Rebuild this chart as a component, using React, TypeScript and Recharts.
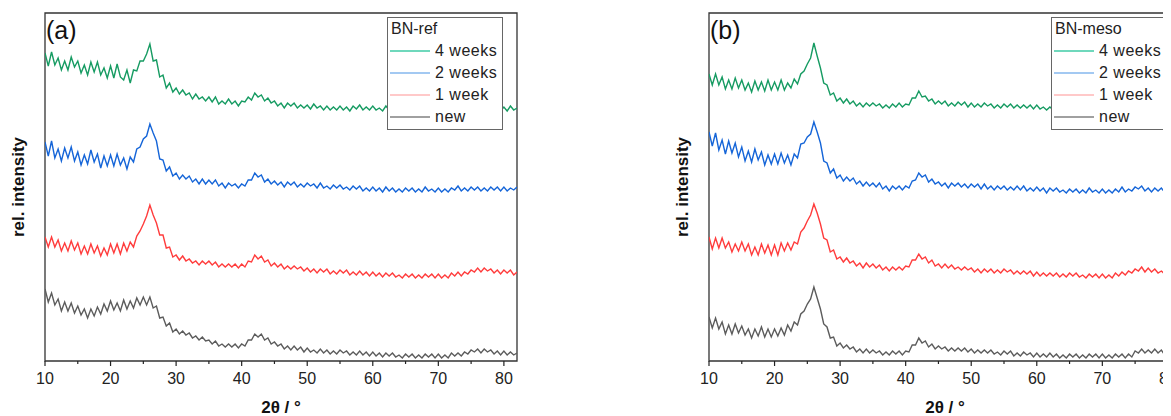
import { LineChart, Line, XAxis, YAxis, ReferenceArea, Legend } from "recharts"

// 2θ grid (°)
const TWO_THETA = [
  10, 10.5, 11, 11.5, 12, 12.5, 13, 13.5, 14, 14.5,
  15, 15.5, 16, 16.5, 17, 17.5, 18, 18.5, 19, 19.5,
  20, 20.5, 21, 21.5, 22, 22.5, 23, 23.5, 24, 24.5,
  25, 25.5, 26, 26.5, 27, 27.5, 28, 28.5, 29, 29.5,
  30, 30.5, 31, 31.5, 32, 32.5, 33, 33.5, 34, 34.5,
  35, 35.5, 36, 36.5, 37, 37.5, 38, 38.5, 39, 39.5,
  40, 40.5, 41, 41.5, 42, 42.5, 43, 43.5, 44, 44.5,
  45, 45.5, 46, 46.5, 47, 47.5, 48, 48.5, 49, 49.5,
  50, 50.5, 51, 51.5, 52, 52.5, 53, 53.5, 54, 54.5,
  55, 55.5, 56, 56.5, 57, 57.5, 58, 58.5, 59, 59.5,
  60, 60.5, 61, 61.5, 62, 62.5, 63, 63.5, 64, 64.5,
  65, 65.5, 66, 66.5, 67, 67.5, 68, 68.5, 69, 69.5,
  70, 70.5, 71, 71.5, 72, 72.5, 73, 73.5, 74, 74.5,
  75, 75.5, 76, 76.5, 77, 77.5, 78, 78.5, 79, 79.5,
  80, 80.5, 81, 81.5, 82,
]

// BN-ref, stacked rel. intensity (offset)
const REF_4W = [
  308, 295, 309, 296, 303, 291, 300, 291, 304, 294,
  300, 288, 296, 286, 299, 289, 299, 286, 293, 283,
  295, 283, 297, 284, 281, 291, 278, 291, 290, 300,
  300, 307, 317, 300, 301, 284, 286, 273, 278, 269,
  273, 267, 271, 266, 268, 262, 267, 262, 264, 260,
  264, 259, 264, 257, 260, 257, 262, 257, 260, 255,
  260, 259, 264, 261, 268, 264, 266, 260, 263, 258,
  260, 255, 258, 253, 258, 255, 258, 253, 256, 253,
  256, 252, 257, 253, 255, 251, 255, 251, 254, 251,
  255, 251, 254, 250, 255, 252, 256, 251, 254, 251,
  255, 251, 253, 250, 255, 251, 254, 248, 252, 250,
  253, 249, 251, 247, 252, 249, 253, 247, 250, 247,
  251, 247, 250, 247, 252, 249, 252, 247, 251, 248,
  252, 249, 252, 250, 255, 252, 255, 250, 254, 250,
  254, 250, 255, 251, 253,
]
const REF_2W = [
  219, 205, 220, 203, 212, 200, 213, 203, 214, 200,
  209, 196, 206, 197, 211, 199, 207, 193, 205, 195,
  206, 195, 207, 196, 203, 192, 204, 199, 212, 214,
  222, 225, 237, 228, 220, 202, 201, 190, 194, 185,
  188, 182, 186, 182, 185, 179, 182, 177, 182, 177,
  181, 177, 181, 175, 178, 173, 178, 175, 177, 173,
  177, 175, 181, 181, 188, 184, 186, 179, 182, 177,
  180, 176, 179, 174, 179, 176, 179, 174, 177, 174,
  178, 175, 177, 173, 178, 173, 175, 172, 176, 173,
  176, 172, 174, 171, 175, 172, 175, 170, 173, 170,
  174, 170, 173, 169, 174, 170, 173, 169, 172, 169,
  173, 170, 173, 169, 172, 169, 174, 170, 172, 169,
  173, 169, 172, 169, 173, 171, 175, 170, 173, 170,
  174, 171, 174, 170, 173, 170, 174, 171, 174, 170,
  174, 170, 173, 171, 174,
]
const REF_1W = [
  124, 114, 124, 114, 121, 110, 118, 110, 120, 111,
  118, 107, 115, 107, 117, 108, 115, 105, 113, 106,
  117, 108, 117, 107, 118, 110, 119, 114, 125, 130,
  137, 145, 156, 146, 138, 126, 126, 113, 114, 104,
  106, 101, 105, 100, 102, 98, 100, 96, 100, 97,
  100, 96, 99, 94, 97, 94, 97, 94, 97, 93,
  97, 94, 100, 99, 106, 102, 105, 99, 101, 95,
  98, 94, 97, 92, 95, 92, 95, 92, 94, 90,
  93, 89, 92, 88, 92, 89, 92, 87, 90, 87,
  91, 88, 91, 86, 89, 86, 90, 86, 89, 85,
  89, 85, 88, 84, 88, 85, 88, 84, 86, 83,
  87, 84, 87, 83, 86, 83, 87, 84, 87, 83,
  87, 83, 86, 83, 88, 85, 89, 85, 89, 87,
  91, 89, 93, 89, 93, 90, 92, 88, 91, 87,
  91, 88, 91, 86, 89,
]
const REF_NEW = [
  72, 59, 68, 56, 62, 50, 59, 50, 58, 48,
  55, 46, 52, 43, 52, 45, 54, 47, 57, 50,
  60, 51, 58, 50, 61, 52, 60, 53, 63, 56,
  64, 56, 64, 53, 55, 43, 44, 35, 38, 29,
  32, 27, 30, 26, 28, 23, 25, 21, 24, 20,
  21, 17, 20, 15, 17, 14, 17, 14, 17, 13,
  17, 15, 21, 21, 27, 24, 27, 21, 23, 17,
  19, 15, 17, 12, 15, 11, 15, 11, 14, 9,
  13, 9, 11, 8, 12, 8, 11, 7, 10, 7,
  11, 8, 10, 6, 9, 6, 10, 6, 9, 5,
  9, 5, 8, 4, 8, 5, 8, 4, 6, 3,
  7, 4, 7, 3, 6, 3, 7, 4, 7, 3,
  7, 3, 6, 3, 8, 5, 8, 5, 9, 7,
  11, 9, 12, 8, 12, 9, 11, 7, 10, 6,
  10, 6, 9, 6, 8,
]

// BN-meso
const MESO_4W = [
  287, 276, 287, 276, 284, 272, 281, 272, 283, 273,
  281, 271, 278, 269, 280, 271, 279, 270, 281, 271,
  279, 271, 281, 271, 278, 273, 282, 277, 287, 290,
  297, 303, 318, 305, 293, 278, 276, 266, 268, 260,
  263, 258, 262, 257, 260, 255, 258, 254, 258, 255,
  258, 255, 257, 253, 256, 253, 257, 254, 258, 254,
  257, 256, 263, 263, 270, 264, 265, 260, 262, 257,
  260, 257, 260, 255, 258, 255, 259, 256, 259, 254,
  258, 254, 257, 254, 258, 255, 257, 253, 256, 253,
  257, 254, 257, 253, 256, 253, 256, 253, 256, 252,
  256, 252, 254, 251, 254, 251, 254, 250, 252, 249,
  253, 250, 252, 248, 251, 248, 251, 248, 251, 247,
  251, 247, 250, 247, 251, 248, 251, 247, 250, 247,
  251, 248, 251, 248, 251, 248, 252, 249, 253, 249,
  253, 249, 251, 249, 252,
]
const MESO_2W = [
  229, 215, 228, 211, 221, 207, 220, 208, 218, 204,
  214, 200, 210, 199, 212, 201, 209, 196, 206, 197,
  207, 197, 208, 198, 206, 196, 207, 203, 217, 218,
  224, 227, 239, 229, 218, 200, 198, 188, 192, 183,
  186, 180, 184, 180, 183, 177, 180, 175, 179, 175,
  178, 174, 178, 172, 175, 170, 175, 172, 175, 171,
  175, 173, 180, 181, 188, 184, 186, 179, 182, 177,
  179, 175, 178, 173, 178, 175, 178, 174, 177, 173,
  177, 174, 177, 172, 177, 172, 175, 171, 175, 172,
  175, 171, 174, 171, 175, 171, 175, 170, 173, 170,
  174, 170, 173, 168, 173, 170, 173, 169, 171, 168,
  172, 169, 172, 168, 171, 168, 173, 169, 171, 168,
  172, 168, 171, 168, 172, 169, 174, 169, 172, 170,
  174, 172, 175, 170, 173, 169, 173, 170, 173, 169,
  173, 169, 172, 169, 172,
]
const MESO_1W = [
  124, 112, 123, 113, 123, 113, 119, 109, 117, 110,
  119, 110, 117, 106, 114, 106, 117, 108, 116, 106,
  116, 106, 118, 110, 118, 111, 119, 117, 129, 133,
  140, 146, 157, 148, 137, 123, 121, 109, 111, 102,
  104, 99, 103, 98, 100, 95, 98, 93, 98, 94,
  97, 93, 96, 91, 94, 90, 94, 91, 94, 91,
  95, 94, 101, 101, 107, 102, 104, 98, 101, 95,
  97, 93, 97, 93, 96, 92, 94, 91, 94, 91,
  93, 89, 92, 88, 92, 89, 92, 88, 91, 88,
  92, 89, 91, 87, 90, 87, 90, 87, 90, 85,
  89, 85, 88, 85, 88, 85, 88, 84, 87, 84,
  88, 85, 88, 84, 86, 83, 87, 84, 87, 83,
  87, 83, 86, 83, 88, 85, 89, 86, 90, 88,
  92, 90, 94, 89, 93, 89, 92, 88, 90, 87,
  91, 88, 90, 86, 89,
]
const MESO_NEW = [
  44, 33, 43, 32, 39, 27, 36, 27, 37, 28,
  35, 26, 32, 23, 32, 25, 34, 24, 32, 24,
  32, 25, 33, 26, 36, 30, 39, 36, 47, 50,
  57, 62, 74, 63, 52, 37, 34, 23, 24, 15,
  18, 13, 16, 12, 14, 9, 12, 8, 12, 8,
  11, 8, 10, 6, 9, 6, 10, 7, 10, 6,
  10, 9, 16, 16, 23, 18, 20, 14, 17, 12,
  15, 12, 14, 10, 13, 10, 13, 10, 13, 9,
  12, 8, 11, 8, 11, 8, 11, 7, 9, 6,
  10, 7, 10, 5, 8, 5, 9, 6, 8, 4,
  8, 4, 7, 4, 8, 4, 7, 3, 6, 3,
  7, 4, 7, 3, 6, 3, 7, 4, 7, 3,
  7, 3, 6, 3, 7, 4, 7, 3, 7, 4,
  10, 8, 12, 8, 11, 8, 12, 8, 11, 6,
  10, 6, 9, 6, 8,
]

const SERIES_NAMES = ["4 weeks", "2 weeks", "1 week", "new"]
const SERIES_KEYS = ["w4", "w2", "w1", "fresh"]
const LINE_COLORS = ["#169b62", "#1565d8", "#ff3c3c", "#5c5c5c"]
const LEGEND_COLORS = ["#6fd8bc", "#a3c9f2", "#ffc9c9", "#a0a0a0"]
const X_TICKS = [10, 15, 20, 25, 30, 35, 40, 45, 50, 55, 60, 65, 70, 75, 80]

const FONT = "'Liberation Sans', Arial, sans-serif"

const buildRows = (series: number[][]) =>
  TWO_THETA.map((t, i) => {
    const row: Record<string, number> = { t }
    SERIES_KEYS.forEach((k, j) => (row[k] = series[j][i]))
    return row
  })

const refRows = buildRows([REF_4W, REF_2W, REF_1W, REF_NEW])
const mesoRows = buildRows([MESO_4W, MESO_2W, MESO_1W, MESO_NEW])

function XTick(props: any) {
  const { x, y, payload } = props
  const major = payload.value % 10 === 0
  return (
    <g>
      <line x1={x} x2={x} y1={y} y2={y + (major ? 5 : 3)} stroke="#222" strokeWidth={1.2} />
      {major && (
        <text x={x} y={y + 23} textAnchor="middle" fontSize={16} fontFamily={FONT} fill="#222">
          {payload.value}
        </text>
      )}
    </g>
  )
}

function XLabel({ tag }: { tag: string }) {
  return (
    <g fontFamily={FONT} fill="#111">
      <text x={281} y={413} textAnchor="middle" fontSize={17} fontWeight="bold">
        2θ / °
      </text>
      <text x={46} y={39} fontSize={25}>
        {tag}
      </text>
    </g>
  )
}

function YLabel() {
  return (
    <text
      transform="translate(24,187) rotate(-90)"
      textAnchor="middle"
      fontSize={17}
      fontWeight="bold"
      fontFamily={FONT}
      fill="#111"
    >
      rel. intensity
    </text>
  )
}

function LegendBox({ title }: { title: string }) {
  return (
    <div
      style={{
        width: 114,
        height: 111,
        border: "1px solid #666",
        background: "#fff",
        fontFamily: FONT,
        fontSize: 16,
        lineHeight: "22px",
        color: "#222",
      }}
    >
      <div style={{ paddingLeft: 3 }}>{title}</div>
      {SERIES_NAMES.map((name, i) => (
        <div key={name} style={{ display: "flex", alignItems: "center", height: 22 }}>
          <span style={{ display: "inline-block", width: 40, height: 2, marginLeft: 2, background: LEGEND_COLORS[i] }} />
          <span style={{ marginLeft: 5, letterSpacing: 0.5 }}>{name}</span>
        </div>
      ))}
    </div>
  )
}

function Panel({ rows, title, tag, left }: { rows: any[]; title: string; tag: string; left: number }) {
  return (
    <div style={{ position: "absolute", left, top: 0 }}>
      <LineChart width={530} height={416} data={rows} margin={{ top: 13, right: 13, bottom: 0, left: 0 }}>
        <XAxis
          dataKey="t"
          type="number"
          domain={[10, 82]}
          ticks={X_TICKS}
          interval={0}
          allowDataOverflow
          height={55}
          tickSize={0}
          tickMargin={0}
          tickLine={false}
          axisLine={false}
          tick={(p: any) => <XTick {...p} />}
          label={<XLabel tag={tag} />}
        />
        <YAxis
          type="number"
          domain={[0, 348]}
          allowDataOverflow
          width={45}
          tick={false}
          tickLine={false}
          axisLine={false}
          label={<YLabel />}
        />
        <ReferenceArea x1={10} x2={82} y1={0} y2={348} fill="none" fillOpacity={0} stroke="#333" strokeWidth={1.3} />
        {SERIES_KEYS.map((k, i) => (
          <Line
            key={k}
            dataKey={k}
            name={SERIES_NAMES[i]}
            stroke={LINE_COLORS[i]}
            strokeWidth={1.4}
            strokeLinejoin="miter"
            dot={false}
            isAnimationActive={false}
          />
        ))}
        <Legend
          layout="vertical"
          align="center"
          verticalAlign="middle"
          wrapperStyle={{ left: 387, top: 17 }}
          content={() => <LegendBox title={title} />}
        />
      </LineChart>
    </div>
  )
}

export default function App() {
  return (
    <div style={{ position: "relative", width: 1171, height: 416, margin: "-8px 0 0 -8px", overflow: "hidden", background: "#fff" }}>
      <Panel rows={refRows} title="BN-ref" tag="(a)" left={0} />
      <Panel rows={mesoRows} title="BN-meso" tag="(b)" left={664} />
    </div>
  )
}
